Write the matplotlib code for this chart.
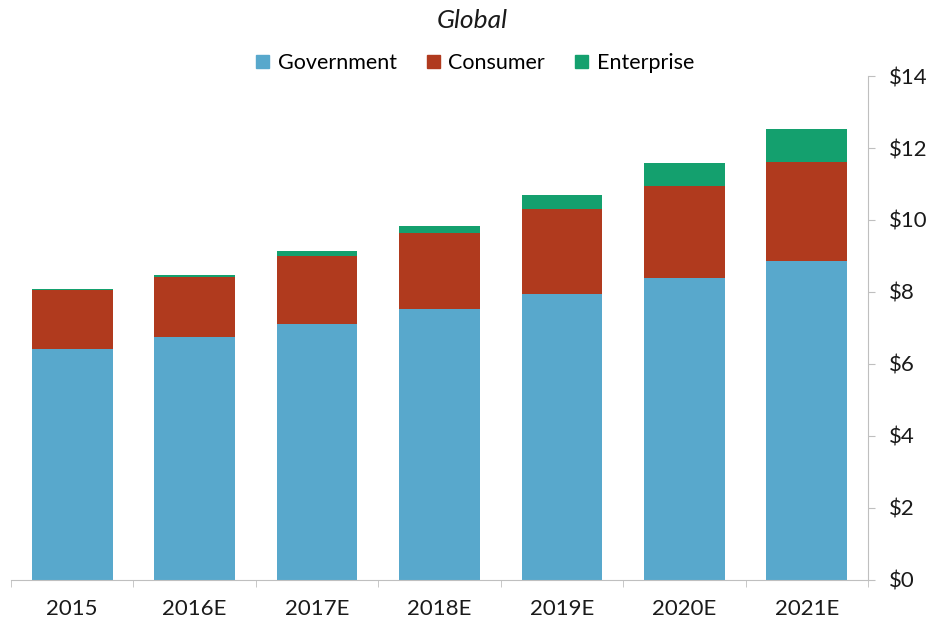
import matplotlib
matplotlib.use("Agg")
import matplotlib.pyplot as plt
from matplotlib.patches import Patch
import numpy as np

categories = ["2015", "2016E", "2017E", "2018E", "2019E", "2020E", "2021E"]
government = [6.42, 6.75, 7.11, 7.53, 7.94, 8.39, 8.86]
consumer = [1.64, 1.67, 1.89, 2.11, 2.36, 2.55, 2.74]
enterprise = [0.02, 0.05, 0.14, 0.19, 0.39, 0.64, 0.93]
yticks = [0, 2, 4, 6, 8, 10, 12, 14]
ytick_labels = ["$0", "$2", "$4", "$6", "$8", "$10", "$12", "$14"]

c_gov = "#58A8CC"
c_con = "#B03A1E"
c_ent = "#14A06E"
axis_col = "#BFBFBF"

plt.rcParams['font.family'] = ['Lato', 'DejaVu Sans']

fig = plt.figure(figsize=(9.32, 6.29), dpi=100)
ax = fig.add_axes([11/932, 1 - 580/629, (868 - 11)/932, (580 - 76)/629])

x = np.arange(len(categories))
w = 0.66
gov = np.array(government)
con = np.array(consumer)
ent = np.array(enterprise)
ax.bar(x, gov, w, color=c_gov, label="Government")
ax.bar(x, con, w, bottom=gov, color=c_con, label="Consumer")
ax.bar(x, ent, w, bottom=gov + con, color=c_ent, label="Enterprise")

ax.set_xlim(-0.5, len(categories) - 0.5)
ax.set_ylim(0, 14)
ax.set_yticks(yticks)
ax.set_yticklabels(ytick_labels)
ax.yaxis.tick_right()
ax.set_xticks(x)
ax.set_xticklabels(categories)
ax.set_xticks(np.arange(len(categories) + 1) - 0.5, minor=True)
ax.tick_params(axis='x', which='major', length=0, labelsize=16, pad=14, colors='#1a1a1a')
ax.tick_params(axis='x', which='minor', length=5, color=axis_col, direction='out')
ax.tick_params(axis='y', which='major', length=5, color=axis_col, labelsize=16, pad=10, labelcolor='#1a1a1a')

for s in ['top', 'left']:
    ax.spines[s].set_visible(False)
ax.spines['bottom'].set_color(axis_col)
ax.spines['right'].set_color(axis_col)

fig.text(472/932, 1 - 21/629, "Global", ha='center', va='center', fontsize=19, style='italic', color='#1a1a1a')

handles = [Patch(color=c_gov, label="Government"), Patch(color=c_con, label="Consumer"), Patch(color=c_ent, label="Enterprise")]
fig.legend(handles=handles, loc='center', bbox_to_anchor=(475/932, 1 - 63/629), ncol=3, frameon=False,
           fontsize=15.5, handlelength=0.6, handleheight=0.6, handletextpad=0.4, columnspacing=1.4)

fig.savefig("out.png", dpi=100, facecolor='white')
